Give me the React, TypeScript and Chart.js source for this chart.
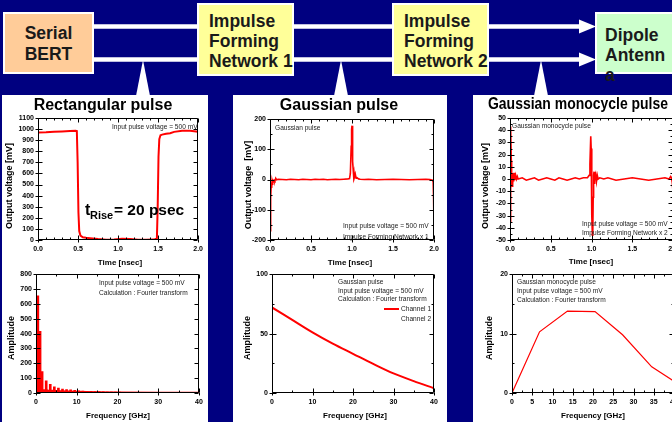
import React, { useEffect, useRef } from "react";
import { Chart, registerables } from "chart.js";

Chart.register(...registerables);

const FONT = '"Liberation Sans", Arial, Helvetica, sans-serif';
Chart.defaults.font.family = FONT;

const NAVY = "#000080";
const RED = "#ff0000";

// ---------- data ----------
// Rectangular pulse (time domain)
const rectTime = [0, 0.1, 0.2, 0.3, 0.4, 0.47, 0.485, 0.495, 0.505, 0.515, 0.53, 0.56, 0.6, 0.65, 0.75, 0.85, 0.95, 1.05, 1.15, 1.25, 1.35, 1.45, 1.485, 1.495, 1.505, 1.515, 1.53, 1.55, 1.6, 1.65, 1.7, 1.8, 1.9, 2.0];
const rectVolt = [970, 972, 976, 979, 982, 985, 982, 700, 250, 80, 40, 25, 20, 16, 8, 3, 5, 12, 8, 3, 2, 4, 15, 300, 750, 910, 945, 950, 958, 962, 975, 985, 985, 975];

// Rectangular pulse spectrum (harmonic lines + low floor)
const rectSpecFreq = [0.45, 0.8, 1.0, 1.5, 2.5, 3.5, 4.5, 5.5, 6.5, 7.5, 8.5, 9.5, 10.5, 11.5, 12.5, 13.5, 14.5, 15.5, 16.5, 17.5, 18.5, 19.5, 20.5, 21.5, 22.5, 23.5, 24.5];
const rectSpecAmp = [655, 415, 415, 145, 82, 58, 42, 33, 27, 23, 21, 18, 15, 13, 12, 11, 10, 9, 8, 7, 7, 6, 6, 5, 5, 5, 4];
const rectFloorFreq = [0, 1, 3, 6, 10, 15, 20, 30, 40];
const rectFloorAmp = [30, 22, 18, 14, 10, 7, 5, 4, 3];

// Gaussian pulse (time domain)
const gaussTime = [0, 0.004, 0.008, 0.012, 0.016, 0.02, 0.025, 0.03, 0.035, 0.04, 0.05, 0.06, 0.07, 0.08, 0.1, 0.15, 0.2, 0.25, 0.3, 0.35, 0.4, 0.45, 0.5, 0.55, 0.6, 0.65, 0.7, 0.75, 0.8, 0.85, 0.9, 0.95, 0.97, 0.98, 0.99, 0.995, 1.0, 1.005, 1.01, 1.02, 1.025, 1.03, 1.04, 1.05, 1.06, 1.08, 1.1, 1.15, 1.2, 1.3, 1.4, 1.5, 1.6, 1.7, 1.8, 1.9, 1.95, 1.98, 1.99, 1.995, 2.0];
const gaussVolt = [-100, -172, -150, -60, -10, -28, -6, -18, -4, -8, -2, -5, 4, -1, 1, 0, -1, 1, 0, -1, 1, 0, -1, 1, 0, 1, -1, 0, 1, 0, 1, 2, 3, 20, 110, 165, 178, 140, 60, 12, 22, 8, 18, 4, 6, 2, 1, 0, 1, -1, 0, 1, 0, -1, 0, 1, 0, -2, -8, -60, -160];

// Gaussian pulse spectrum
const gaussSpecFreq = [0, 5, 10, 15, 20, 25, 30, 35, 40];
const gaussSpecAmp = [72, 61.5, 51, 41.5, 33, 24.5, 16.5, 10, 4];

// Gaussian monocycle pulse (time domain)
const monoTime = [0, 0.004, 0.008, 0.012, 0.016, 0.02, 0.025, 0.03, 0.035, 0.04, 0.045, 0.05, 0.06, 0.07, 0.08, 0.09, 0.1, 0.15, 0.2, 0.25, 0.3, 0.35, 0.4, 0.45, 0.5, 0.55, 0.6, 0.65, 0.7, 0.75, 0.8, 0.85, 0.9, 0.95, 0.97, 0.98, 0.99, 0.995, 1.0, 1.005, 1.01, 1.015, 1.02, 1.025, 1.03, 1.035, 1.04, 1.05, 1.06, 1.07, 1.08, 1.1, 1.15, 1.2, 1.3, 1.4, 1.5, 1.6, 1.7, 1.8, 1.9, 1.95, 1.97, 1.98, 1.99, 2.0];
const monoVolt = [-35, 10, 43, 42, 15, -3, -6, 5, -4, 4, -2, 5, -1, 3, 0, 2, 0, 1, -1, 0, 1, -1, 0, 1, 0, -1, 1, 0, -1, 0, 1, 0, 1, 1, 3, 12, 35, 25, 0, -30, -46, -44, -15, 3, 6, -4, 1, 4, -2, 3, 0, 1, 0, 1, -1, 0, 1, 0, -1, 0, 1, 0, 2, 1, -3, -12];

// Gaussian monocycle spectrum
const monoSpecFreq = [0, 6.8, 13.7, 20.5, 27.3, 34.5, 40];
const monoSpecAmp = [0, 10.3, 13.8, 13.7, 9.8, 4.4, 2.0];

// tick values
const timeTicks = [0, 0.5, 1, 1.5, 2];
const rectVoltTicks = [0, 100, 200, 300, 400, 500, 600, 700, 800, 900, 1000, 1100];
const gaussVoltTicks = [-200, -100, 0, 100, 200];
const monoVoltTicks = [-50, -40, -30, -20, -10, 0, 10, 20, 30, 40, 50];
const freqTicks10 = [0, 10, 20, 30, 40];
const freqTicks5 = [0, 5, 10, 15, 20, 25, 30, 35, 40];
const rectAmpTicks = [0, 100, 200, 300, 400, 500, 600, 700, 800];
const gaussAmpTicks = [0, 50, 100];
const monoAmpTicks = [0, 10, 20];

// ---------- helpers ----------
const xy = (xs: number[], ys: number[]) => xs.map((x, i) => ({ x, y: ys[i] }));
const fmt1 = (v: any) => Number(v).toFixed(1);
const fmt0 = (v: any) => String(Number(v));

const decor = {
  id: "decor",
  afterDraw(chart: any, _a: any, o: any) {
    const { ctx, chartArea: a } = chart;
    const xs = chart.scales.x;
    const ys = chart.scales.y;
    ctx.save();
    ctx.strokeStyle = "#000";
    ctx.lineWidth = 1;
    const L = Math.round(a.left) + 0.5;
    const R = Math.round(a.right) - 0.5;
    const T = Math.round(a.top) + 0.5;
    const B = Math.round(a.bottom) - 0.5;
    ctx.beginPath();
    ctx.rect(L, T, R - L, B - T);
    const tv = (s: any, n: number) => {
      const v = s.ticks.map((t: any) => t.value);
      const out: [number, boolean][] = [];
      for (let i = 0; i < v.length; i++) {
        out.push([v[i], true]);
        if (i < v.length - 1) for (let k = 1; k <= n; k++) out.push([v[i] + ((v[i + 1] - v[i]) * k) / (n + 1), false]);
      }
      return out;
    };
    for (const [v, major] of tv(xs, o.xMinor || 0)) {
      const p = Math.round(xs.getPixelForValue(v)) + 0.5;
      const len = major ? 4 : 2;
      ctx.moveTo(p, B); ctx.lineTo(p, B - len);
      ctx.moveTo(p, T); ctx.lineTo(p, T + len);
      if (major) { ctx.moveTo(p, B); ctx.lineTo(p, B + 3); }
    }
    for (const [v, major] of tv(ys, o.yMinor || 0)) {
      const p = Math.round(ys.getPixelForValue(v)) + 0.5;
      const len = major ? 4 : 2;
      ctx.moveTo(L, p); ctx.lineTo(L + len, p);
      ctx.moveTo(R, p); ctx.lineTo(R - len, p);
      if (major) { ctx.moveTo(L, p); ctx.lineTo(L - 3, p); }
    }
    ctx.stroke();
    for (const s of o.segs || []) {
      ctx.beginPath();
      ctx.strokeStyle = s.c;
      ctx.lineWidth = s.w;
      ctx.moveTo(s.x1 - o.ox, s.y1 - o.oy);
      ctx.lineTo(s.x2 - o.ox, s.y2 - o.oy);
      ctx.stroke();
    }
    for (const t of o.texts || []) {
      ctx.save();
      ctx.font = `${t.b ? "bold " : ""}${t.s}px ${FONT}`;
      ctx.fillStyle = t.c || (t.b ? "#000" : "#222");
      ctx.textBaseline = "middle";
      ctx.textAlign = t.al || "left";
      ctx.translate(t.x - o.ox, t.y - o.oy);
      if (t.rot) ctx.rotate(-Math.PI / 2);
      if (t.mw) ctx.fillText(t.t, 0, 0, t.mw);
      else ctx.fillText(t.t, 0, 0);
      ctx.restore();
    }
    ctx.restore();
  },
};

function cfg(p: any) {
  const padTop = p.area.t - p.oy;
  const padRight = p.ox + p.w - p.area.r;
  const yw = p.area.l - p.ox;
  const xh = p.oy + p.h - p.area.b;
  const tickFont = { size: 7, weight: "bold" };
  return {
    type: p.type || "line",
    data: { datasets: p.datasets },
    options: {
      animation: false,
      responsive: false,
      devicePixelRatio: 1,
      events: [],
      layout: { padding: { left: 0, top: padTop, right: padRight, bottom: 0 }, autoPadding: false },
      elements: { point: { radius: 0 }, line: { tension: 0 } },
      plugins: {
        legend: { display: false },
        tooltip: { enabled: false },
        decor: { ox: p.ox, oy: p.oy, xMinor: p.xMinor, yMinor: p.yMinor, texts: p.texts, segs: p.segs },
      },
      scales: {
        x: {
          type: "linear", min: p.xMin, max: p.xMax, offset: false,
          grid: { display: false, drawTicks: false }, border: { display: false },
          ticks: { font: tickFont, color: "#000", padding: 5, maxRotation: 0, autoSkip: false, callback: p.xFmt },
          afterBuildTicks: (s: any) => { s.ticks = p.xTicks.map((v: number) => ({ value: v })); },
          afterFit: (s: any) => { s.height = xh; },
        },
        y: {
          type: "linear", min: p.yMin, max: p.yMax,
          grid: { display: false, drawTicks: false }, border: { display: false },
          ticks: { font: tickFont, color: "#000", padding: 4, autoSkip: false, callback: p.yFmt },
          afterBuildTicks: (s: any) => { s.ticks = p.yTicks.map((v: number) => ({ value: v })); },
          afterFit: (s: any) => { s.width = yw; },
        },
      },
    },
    plugins: [decor],
  };
}

function Plot({ p }: { p: any }) {
  const ref = useRef<HTMLCanvasElement>(null);
  useEffect(() => {
    const chart = new Chart(ref.current as HTMLCanvasElement, cfg(p) as any);
    return () => chart.destroy();
  }, []);
  return (
    <canvas
      ref={ref}
      width={p.w}
      height={p.h}
      style={{ position: "absolute", left: p.ox, top: p.oy, width: p.w, height: p.h }}
    />
  );
}

const redLine = (data: any[], w: number) => ({
  data, borderColor: RED, borderWidth: w, pointRadius: 0, fill: false, tension: 0,
});

const note = 6.6;

const charts: any[] = [
  {
    ox: 3, oy: 96, w: 205, h: 176, area: { l: 38, t: 118, r: 201, b: 240 },
    xMin: 0, xMax: 2, yMin: 0, yMax: 1100, xTicks: timeTicks, yTicks: rectVoltTicks, xFmt: fmt1, yFmt: fmt0,
    xMinor: 4, yMinor: 0,
    datasets: [redLine(xy(rectTime, rectVolt), 2)],
    texts: [
      { t: "Rectangular pulse", x: 103, y: 106, s: 16, b: true, al: "center" },
      { t: "Input pulse voltage = 500 mV", x: 112, y: 127, s: note },
      { t: "t", x: 85, y: 211, s: 16, b: true },
      { t: "Rise", x: 90, y: 216, s: 11, b: true },
      { t: "= 20 psec", x: 114, y: 211, s: 15.5, b: true },
      { t: "Output voltage [mV]", x: 10, y: 186, s: 9, b: true, rot: true, al: "center" },
      { t: "Time [nsec]", x: 120, y: 263, s: 8, b: true, al: "center" },
    ],
  },
  {
    type: "bar",
    ox: 3, oy: 266, w: 205, h: 156, area: { l: 36, t: 272, r: 199, b: 393 },
    xMin: 0, xMax: 40, yMin: 0, yMax: 800, xTicks: freqTicks10, yTicks: rectAmpTicks, xFmt: fmt0, yFmt: fmt0,
    xMinor: 1, yMinor: 0,
    datasets: [
      { type: "line", data: xy(rectFloorFreq, rectFloorAmp), borderColor: RED, backgroundColor: RED, borderWidth: 1.5, pointRadius: 0, fill: "origin" },
      { type: "bar", data: xy(rectSpecFreq, rectSpecAmp), backgroundColor: RED, borderWidth: 0, barThickness: 2, grouped: false },
    ],
    texts: [
      { t: "Input pulse voltage = 500 mV", x: 99, y: 283, s: note },
      { t: "Calculation : Fourier transform", x: 99, y: 293, s: note },
      { t: "Amplitude", x: 12, y: 338, s: 9, b: true, rot: true, al: "center" },
      { t: "Frequency [GHz]", x: 118, y: 416, s: 8, b: true, al: "center" },
    ],
  },
  {
    ox: 233, oy: 96, w: 214, h: 176, area: { l: 270, t: 119, r: 434, b: 240 },
    xMin: 0, xMax: 2, yMin: -200, yMax: 200, xTicks: timeTicks, yTicks: gaussVoltTicks, xFmt: fmt1, yFmt: fmt0,
    xMinor: 4, yMinor: 1,
    datasets: [redLine(xy(gaussTime, gaussVolt), 1.6)],
    texts: [
      { t: "Gaussian pulse", x: 339, y: 106, s: 16, b: true, al: "center" },
      { t: "Gaussian pulse", x: 275, y: 128, s: note },
      { t: "Input pulse voltage = 500 mV", x: 343, y: 226, s: note },
      { t: "Impulse Forming Network x 1", x: 343, y: 237, s: note },
      { t: "Output voltage  [mV]", x: 248.5, y: 185, s: 9, b: true, rot: true, al: "center" },
      { t: "Time [nsec]", x: 350, y: 263, s: 8, b: true, al: "center" },
    ],
  },
  {
    ox: 233, oy: 266, w: 214, h: 156, area: { l: 272, t: 271, r: 434, b: 393 },
    xMin: 0, xMax: 40, yMin: 0, yMax: 100, xTicks: freqTicks10, yTicks: gaussAmpTicks, xFmt: fmt0, yFmt: fmt0,
    xMinor: 1, yMinor: 1,
    datasets: [{ ...redLine(xy(gaussSpecFreq, gaussSpecAmp), 2), cubicInterpolationMode: "monotone" }],
    segs: [{ x1: 384, y1: 309, x2: 399, y2: 309, w: 2, c: RED }],
    texts: [
      { t: "Gaussian pulse", x: 338, y: 282, s: note },
      { t: "Input pulse voltage = 500 mV", x: 338, y: 291, s: note },
      { t: "Calculation : Fourier transform", x: 338, y: 299, s: note },
      { t: "Channel 1", x: 401, y: 309, s: note },
      { t: "Channel 2", x: 401, y: 319, s: note },
      { t: "Amplitude", x: 248, y: 338, s: 9, b: true, rot: true, al: "center" },
      { t: "Frequency [GHz]", x: 355, y: 416, s: 8, b: true, al: "center" },
    ],
  },
  {
    ox: 473, oy: 96, w: 210, h: 176, area: { l: 510, t: 118, r: 674, b: 240 },
    xMin: 0, xMax: 2, yMin: -50, yMax: 50, xTicks: timeTicks, yTicks: monoVoltTicks, xFmt: fmt1, yFmt: fmt0,
    xMinor: 4, yMinor: 1,
    datasets: [redLine(xy(monoTime, monoVolt), 1.6)],
    texts: [
      { t: "Gaussian monocycle pulse", x: 578, y: 105, s: 16, b: true, al: "center", mw: 180 },
      { t: "Gaussian monocycle pulse", x: 512, y: 126, s: note },
      { t: "Input pulse voltage = 500 mV", x: 582, y: 224, s: note },
      { t: "Impulse Forming Network x 2", x: 582, y: 233, s: note },
      { t: "Output voltage [mV]", x: 486, y: 186, s: 9, b: true, rot: true, al: "center" },
      { t: "Time [nsec]", x: 591, y: 262, s: 8, b: true, al: "center" },
    ],
  },
  {
    ox: 473, oy: 266, w: 210, h: 156, area: { l: 512, t: 272, r: 674, b: 393 },
    xMin: 0, xMax: 40, yMin: 0, yMax: 20, xTicks: freqTicks5, yTicks: monoAmpTicks, xFmt: fmt0, yFmt: fmt0,
    xMinor: 1, yMinor: 1,
    datasets: [redLine(xy(monoSpecFreq, monoSpecAmp), 1.2)],
    texts: [
      { t: "Gaussian monocycle pulse", x: 517, y: 282, s: note },
      { t: "Input pulse voltage = 500 mV", x: 517, y: 291, s: note },
      { t: "Calculation : Fourier transform", x: 517, y: 300, s: note },
      { t: "Amplitude", x: 489.5, y: 338, s: 9, b: true, rot: true, al: "center" },
      { t: "Frequency [GHz]", x: 593, y: 416, s: 8, b: true, al: "center" },
    ],
  },
];

const boxFont = { fontFamily: FONT, fontWeight: "bold" as const, fontSize: 17.5, fill: "#1a1a1a" };

function Diagram() {
  return (
    <svg width={672} height={422} style={{ position: "absolute", left: 0, top: 0 }}>
      <rect x={0} y={0} width={672} height={422} fill={NAVY} />
      <rect x={2} y={95} width={206} height={327} fill="#fff" />
      <rect x={233} y={95} width={214} height={327} fill="#fff" />
      <rect x={473} y={95} width={199} height={327} fill="#fff" />
      <line x1={92} y1={26.5} x2={582} y2={26.5} stroke="#fff" strokeWidth={4.5} />
      <line x1={92} y1={59.5} x2={582} y2={59.5} stroke="#fff" strokeWidth={4.5} />
      <polygon points="579,19.5 596,26.5 579,33.5" fill="#fff" />
      <polygon points="579,52.5 596,59.5 579,66.5" fill="#fff" />
      <polygon points="143,60 136,96 150,96" fill="#fff" />
      <polygon points="341,60 334,96 348,96" fill="#fff" />
      <polygon points="541,60 534,96 548,96" fill="#fff" />
      <rect x={4} y={13} width={89} height={60} fill="#ffcc99" stroke="#fff" strokeWidth={2} />
      <rect x={198} y={4} width={95} height={71} fill="#ffff99" stroke="#fff" strokeWidth={2} />
      <rect x={393} y={4} width={95} height={71} fill="#ffff99" stroke="#fff" strokeWidth={2} />
      <rect x={596} y={13} width={80} height={60} fill="#ccffcc" stroke="#fff" strokeWidth={2} />
      <text x={48.5} y={39} textAnchor="middle" {...boxFont}>Serial</text>
      <text x={48.5} y={59.5} textAnchor="middle" {...boxFont}>BERT</text>
      <text x={209} y={26.5} {...boxFont}>Impulse</text>
      <text x={209} y={46.5} {...boxFont}>Forming</text>
      <text x={209} y={66.5} {...boxFont}>Network 1</text>
      <text x={404} y={26.5} {...boxFont}>Impulse</text>
      <text x={404} y={46.5} {...boxFont}>Forming</text>
      <text x={404} y={66.5} {...boxFont}>Network 2</text>
      <text x={605} y={40.5} {...boxFont}>Dipole</text>
      <text x={605} y={60.5} {...boxFont}>Antenn</text>
      <text x={605} y={81} {...boxFont}>a</text>
    </svg>
  );
}

export default function App() {
  return (
    <div style={{ position: "absolute", left: 0, top: 0, width: 672, height: 422, overflow: "hidden", background: NAVY }}>
      <Diagram />
      {charts.map((p, i) => (
        <Plot key={i} p={p} />
      ))}
    </div>
  );
}
